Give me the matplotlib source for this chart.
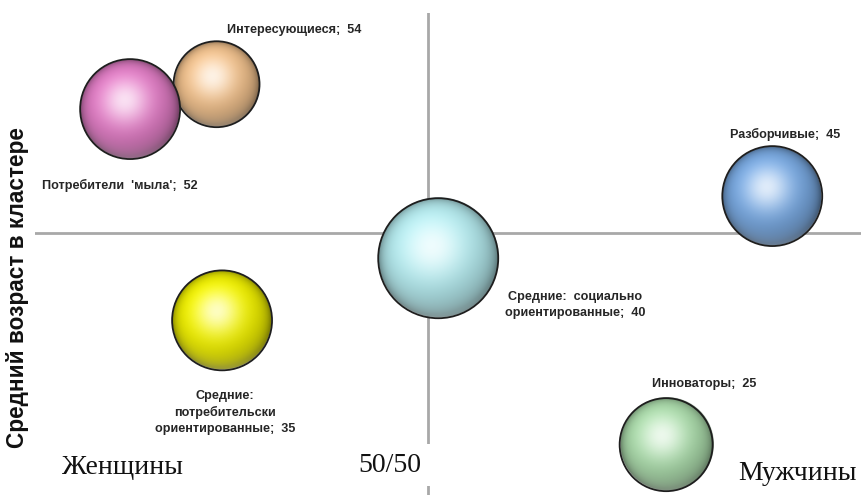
import numpy as np
import matplotlib
matplotlib.use("Agg")
import matplotlib.pyplot as plt
from matplotlib.patches import Ellipse
from matplotlib.colors import to_rgb

# кластеры: доля мужчин (%), средний возраст, размер кластера (%)
clusters = ["Интересующиеся", "Потребители  'мыла'", "Разборчивые",
            "Средние:  социально\nориентированные", "Средние:\nпотребительски\nориентированные",
            "Инноваторы"]
men_share = [23.1, 12.1, 93.8, 51.3, 23.8, 80.3]
avg_age = [54, 52, 45, 40, 35, 25]
cluster_size = [12.2, 16.5, 16.5, 23.8, 16.5, 14.3]
colors = ["#F0C08C", "#E07CC4", "#78A8E0", "#B4EAEE", "#F0F000", "#AADAAA"]

# сдвиг подписей от центра шара, в пикселях
label_offsets = [(78, 54), (-10, -76), (13, 62), (137, -47), (3, -92), (38, 61)]

W, H = 861, 495
fig = plt.figure(figsize=(W / 100, H / 100), dpi=100)
ax_left, ax_bottom, ax_w, ax_h = 35, 0, 826, 482
ax = fig.add_axes([ax_left / W, ax_bottom / H, ax_w / W, ax_h / H])
xlim = (0, 50 * 826 / 393)
ylim = (20.95, 59.73)
ax.set_xlim(*xlim)
ax.set_ylim(*ylim)
ax.axis("off")

px_x = ax_w / (xlim[1] - xlim[0])
px_y = ax_h / (ylim[1] - ylim[0])

ax.axvline(50, color="#A8A8A8", lw=2, zorder=1)
ax.axhline(42, color="#A8A8A8", lw=2, zorder=1)


def sphere(color, n=256):
    base = np.array(to_rgb(color))
    u = np.linspace(-1, 1, n)
    U, V = np.meshgrid(u, u)
    R2 = U ** 2 + V ** 2
    Z = np.sqrt(np.clip(1 - R2, 0, 1))
    L = np.array([-0.2, 0.35, 0.9])
    L = L / np.linalg.norm(L)
    diff = np.clip(U * L[0] + V * L[1] + Z * L[2], 0, 1)
    Hv = L + np.array([0, 0, 1])
    Hv = Hv / np.linalg.norm(Hv)
    spec = np.clip(U * Hv[0] + V * Hv[1] + Z * Hv[2], 0, 1) ** 10
    shade = 0.68 + 0.37 * diff
    img = base[None, None, :] * shade[..., None]
    img = img + (1 - img) * (0.75 * spec)[..., None]
    rim = R2 ** 6
    img = img * (1 - 0.3 * rim)[..., None]
    refl = np.clip(-V, 0, 1) ** 2 * np.clip(R2, 0, 1) ** 2 * 0.25
    img = img + (1 - img) * refl[..., None]
    img = np.clip(img, 0, 1)
    alpha = np.clip((1 - np.sqrt(R2)) * n / 2, 0, 1)
    return np.dstack([img, alpha])


for i in range(len(clusters)):
    x, y = men_share[i], avg_age[i]
    r = 12.3 * np.sqrt(cluster_size[i])
    rx, ry = r / px_x, r / px_y
    ax.imshow(sphere(colors[i]), extent=(x - rx, x + rx, y - ry, y + ry),
              origin="lower", aspect="auto", zorder=3 + i, interpolation="bilinear")
    ax.add_patch(Ellipse((x, y), 2 * rx, 2 * ry, fill=False, ec="#1E1E1E",
                         lw=1.3, zorder=3.5 + i))
    ax.annotate(f"{clusters[i]};  {avg_age[i]}", (x, y), xytext=label_offsets[i],
                textcoords="offset pixels", ha="center", va="center",
                fontsize=9.1, fontweight="bold", family="Liberation Sans",
                color="#262626", linespacing=1.4, zorder=20)

ax.set_xlim(*xlim)
ax.set_ylim(*ylim)

fig.text(18 / W, 1 - 288 / H, "Средний возраст в кластере", rotation=90,
         ha="center", va="center", fontsize=16.3, fontweight="bold",
         family="Liberation Sans", color="#111111")

serif = dict(family="Liberation Serif", fontsize=20, color="#111111",
             ha="center", va="center")
fig.text(122 / W, 1 - 468 / H, "Женщины", **serif)
fig.text(390 / W, 1 - 465 / H, "50/50",
         bbox=dict(boxstyle="square,pad=0.3", fc="white", ec="none"), **serif)
fig.text(797 / W, 1 - 473 / H, "Мужчины", **serif)

fig.savefig("out.png", dpi=100, facecolor="white")
